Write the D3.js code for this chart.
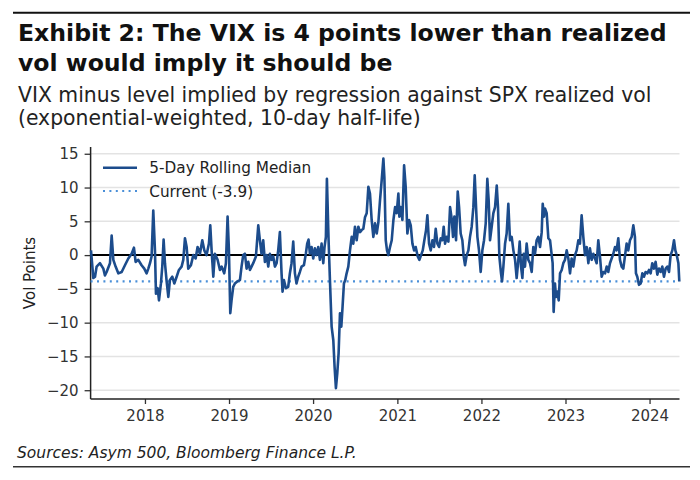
<!DOCTYPE html>
<html><head><meta charset="utf-8">
<script src="https://cdn.jsdelivr.net/npm/d3@7"></script>
<style>body{margin:0;background:#fff}svg{display:block}</style>
</head><body><svg id="c" width="700" height="480"></svg>
<script>
const titleLines = ["Exhibit 2: The VIX is 4 points lower than realized", "vol would imply it should be"];
const subtitleLines = ["VIX minus level implied by regression against SPX realized vol", "(exponential-weighted, 10-day half-life)"];
const sourceText = "Sources: Asym 500, Bloomberg Finance L.P.";
const yAxisLabel = "Vol Points";
const seriesName = "5-Day Rolling Median";
const currentValue = -3.9;
const currentLabel = "Current (-3.9)";
const yTicks = [-20, -15, -10, -5, 0, 5, 10, 15];
const xTickYears = [2018, 2019, 2020, 2021, 2022, 2023, 2024];
const xStart = "2017-05-10", xEnd = "2024-05-10";

// dates as decimal years
const dateYears = [
2017.358,2017.386,2017.406,2017.425,2017.465,2017.505,2017.524,2017.544,2017.584,2017.604,2017.624,2017.651,2017.683,2017.723,2017.762,2017.802,2017.842,2017.869,2017.889,2017.921,2017.960,2017.992,
2018.020,2018.040,2018.060,2018.079,2018.099,2018.119,2018.131,2018.151,2018.167,2018.190,2018.206,2018.222,2018.238,2018.258,2018.278,2018.297,2018.325,2018.349,2018.377,2018.404,2018.436,2018.456,2018.476,2018.496,2018.515,2018.547,2018.575,2018.603,2018.626,2018.654,2018.682,2018.706,2018.733,2018.761,2018.777,2018.793,2018.813,2018.832,2018.864,2018.892,2018.912,2018.943,2018.963,2018.983,2018.999,
2019.015,2019.030,2019.050,2019.070,2019.098,2019.130,2019.149,2019.169,2019.189,2019.209,2019.229,2019.249,2019.268,2019.288,2019.320,2019.348,2019.367,2019.387,2019.407,2019.427,2019.447,2019.467,2019.486,2019.506,2019.526,2019.546,2019.566,2019.585,2019.605,2019.625,2019.637,2019.653,2019.677,2019.704,2019.724,2019.744,2019.764,2019.784,2019.803,2019.823,2019.843,2019.863,2019.891,2019.914,2019.930,2019.946,2019.962,2019.982,
2020.002,2020.021,2020.041,2020.061,2020.081,2020.101,2020.121,2020.136,2020.152,2020.164,2020.184,2020.200,2020.220,2020.240,2020.255,2020.271,2020.287,2020.303,2020.319,2020.335,2020.350,2020.366,2020.382,2020.398,2020.418,2020.438,2020.458,2020.477,2020.497,2020.517,2020.537,2020.557,2020.576,2020.596,2020.616,2020.636,2020.656,2020.675,2020.695,2020.715,2020.735,2020.755,2020.775,2020.794,2020.814,2020.834,2020.846,2020.862,2020.877,2020.893,2020.913,2020.933,2020.953,2020.973,2020.992,
2021.012,2021.024,2021.040,2021.060,2021.080,2021.099,2021.119,2021.139,2021.159,2021.179,2021.199,2021.218,2021.242,2021.262,2021.282,2021.302,2021.321,2021.341,2021.357,2021.377,2021.397,2021.417,2021.436,2021.456,2021.476,2021.496,2021.516,2021.535,2021.551,2021.567,2021.587,2021.607,2021.627,2021.646,2021.662,2021.678,2021.698,2021.718,2021.734,2021.753,2021.773,2021.789,2021.805,2021.825,2021.845,2021.864,2021.884,2021.904,2021.920,2021.936,2021.952,2021.971,2021.991,
2022.011,2022.031,2022.051,2022.070,2022.086,2022.102,2022.122,2022.142,2022.162,2022.182,2022.197,2022.213,2022.233,2022.245,2022.261,2022.281,2022.300,2022.320,2022.340,2022.360,2022.380,2022.400,2022.419,2022.439,2022.455,2022.471,2022.487,2022.503,2022.518,2022.538,2022.558,2022.578,2022.598,2022.617,2022.637,2022.657,2022.677,2022.697,2022.717,2022.729,2022.744,2022.756,2022.776,2022.796,2022.816,2022.836,2022.847,2022.859,2022.875,2022.887,2022.903,2022.919,2022.935,2022.955,2022.974,2022.994,
2023.014,2023.034,2023.054,2023.073,2023.093,2023.113,2023.133,2023.153,2023.172,2023.192,2023.212,2023.232,2023.252,2023.272,2023.291,2023.311,2023.331,2023.351,2023.371,2023.390,2023.410,2023.430,2023.450,2023.470,2023.490,2023.509,2023.529,2023.549,2023.569,2023.589,2023.608,2023.628,2023.648,2023.668,2023.688,2023.707,2023.727,2023.747,2023.767,2023.787,2023.807,2023.826,2023.838,2023.854,2023.874,2023.894,2023.914,2023.933,2023.953,2023.973,2023.993,
2024.013,2024.032,2024.052,2024.072,2024.092,2024.112,2024.132,2024.151,2024.171,2024.191,2024.211,2024.231,2024.250,2024.270,2024.290,2024.306,2024.322,2024.342,2024.353
];
const medianValues = [
0.7,-3.4,-3.2,-1.7,-1.2,-2.0,-3.0,-2.5,-1.2,2.9,-0.7,-1.7,-2.7,-2.5,-1.5,-0.5,0.2,1.1,-1.0,-0.7,-1.5,-2.0,
-2.7,-2.0,-1.2,-0.2,6.6,0.7,-5.7,-4.9,-6.7,-4.2,-1.7,2.3,-1.2,-3.9,-6.2,-3.7,-3.2,-4.2,-3.2,-2.2,-1.7,-0.7,2.5,1.2,-2.0,-1.5,0.0,-0.5,1.2,0.2,2.2,0.7,0.0,1.7,4.4,0.7,-3.2,0.2,-0.7,-2.2,-1.7,-2.7,-1.2,5.7,0.7,
-8.6,-6.7,-4.7,-4.2,-3.9,-3.7,-1.7,0.0,0.2,-2.0,-1.0,-2.2,-1.7,-1.2,-0.2,4.4,2.2,0.2,2.2,-1.0,0.0,-1.7,0.2,-0.7,-0.2,-1.7,-1.2,0.7,3.4,-2.7,-5.4,-3.7,-4.9,-4.7,-2.7,-1.2,2.0,-2.7,-4.2,-3.2,-2.5,-1.7,-1.5,0.2,1.7,2.3,0.2,1.2,
-0.5,1.0,0.0,1.2,-0.7,1.7,-1.2,1.2,2.7,11.3,2.2,-3.7,-10.6,-12.6,-16.5,-19.7,-17.5,-14.5,-8.6,-10.6,-7.6,-4.2,-3.7,-2.7,-1.7,0.7,2.7,1.7,4.2,2.2,4.2,3.4,3.7,3.9,5.6,6.2,10.1,9.1,5.2,2.7,4.7,3.2,4.9,8.1,11.1,14.3,11.5,2.2,0.7,0.0,1.2,2.2,5.2,7.1,6.2,
9.1,5.7,7.1,5.2,13.3,10.1,3.2,5.2,4.4,1.7,0.7,1.2,-0.2,-0.7,0.0,0.7,2.2,3.7,5.9,1.7,0.7,2.2,1.2,3.9,1.7,1.2,2.5,2.2,4.2,1.7,2.7,2.0,7.1,5.4,2.7,5.7,2.2,9.4,7.1,3.2,2.2,-0.2,-1.5,0.0,0.7,2.7,4.2,7.1,11.8,7.1,2.7,0.7,-2.5,
0.7,2.2,4.7,11.3,8.1,2.2,4.2,6.2,7.1,10.3,7.1,-0.2,-2.7,-3.9,-1.7,1.7,3.2,7.6,2.2,2.7,0.7,-0.7,-3.4,-0.7,2.0,-1.7,-3.4,0.2,-1.7,1.7,-0.7,-1.2,-2.5,1.2,0.2,2.2,2.7,1.2,3.4,7.6,5.7,6.9,6.2,2.5,2.2,0.0,-1.2,-8.4,-4.2,-6.2,-5.4,-6.7,-2.7,-2.2,-1.2,-0.7,
0.7,-0.5,-2.7,-0.5,-1.7,0.0,0.7,2.2,1.7,5.9,2.7,0.0,1.2,-1.2,1.0,-0.7,0.2,-0.5,-1.2,2.2,-0.2,-3.2,-2.5,-2.7,-1.7,-2.5,-1.2,-0.5,0.2,1.2,0.7,2.5,-0.7,-1.7,-2.0,-0.2,1.7,0.7,2.2,2.7,4.4,2.7,-2.7,-3.2,-4.4,-4.2,-2.7,-3.2,-2.5,-2.7,-2.2,
-2.7,-1.2,-2.0,-1.0,-2.9,-2.0,-2.5,-1.7,-3.2,-2.0,-1.7,-2.5,0.0,0.7,2.2,0.7,0.0,-1.2,-3.9
];

function decYearToDate(v) {
  const yr = Math.floor(v);
  const s = Date.UTC(yr, 0, 1), e = Date.UTC(yr + 1, 0, 1);
  return new Date(s + (v - yr) * (e - s));
}
const data = dateYears.map((d, i) => ({date: decYearToDate(d), v: medianValues[i]}));

const svg = d3.select("#c");
const FONT = "'DejaVu Sans', Verdana, sans-serif";
const pLeft = 90.6, pRight = 679.5, pTop = 147, pBottom = 399;
const lineColor = "#1c4c8c", currentColor = "#4a8fd8";

const x = d3.scaleUtc().domain([new Date(xStart), new Date(xEnd)]).range([pLeft, pRight]);
const y = d3.scaleLinear().domain([-21.3, 16.0]).range([pBottom, pTop]);

function fit(sel, target) {
  const node = sel.node();
  const fs = parseFloat(sel.attr("font-size"));
  const w = node.getComputedTextLength();
  const nfs = fs * target / w;
  sel.attr("font-size", nfs.toFixed(2));
  return nfs;
}

// top & bottom rules
svg.append("line").attr("x1", 13).attr("x2", 690).attr("y1", 12.7).attr("y2", 12.7).attr("stroke", "#111").attr("stroke-width", 2);
svg.append("line").attr("x1", 13).attr("x2", 690).attr("y1", 466.7).attr("y2", 466.7).attr("stroke", "#333").attr("stroke-width", 1.5);

// title
const t1 = svg.append("text").attr("x", 18).attr("y", 40.5).attr("font-family", FONT).attr("font-weight", "bold").attr("font-size", 21).attr("fill", "#111").text(titleLines[0]);
const tfs = fit(t1, 649);
svg.append("text").attr("x", 18).attr("y", 70.5).attr("font-family", FONT).attr("font-weight", "bold").attr("font-size", tfs).attr("fill", "#111").text(titleLines[1]);

const s1 = svg.append("text").attr("x", 18).attr("y", 102).attr("font-family", FONT).attr("font-size", 18).attr("fill", "#222").text(subtitleLines[0]);
const sfs = fit(s1, 634);
svg.append("text").attr("x", 18).attr("y", 125).attr("font-family", FONT).attr("font-size", sfs).attr("fill", "#222").text(subtitleLines[1]);

const src = svg.append("text").attr("x", 17).attr("y", 458).attr("font-family", FONT).attr("font-style", "italic").attr("font-size", 14).attr("fill", "#222").text(sourceText);
fit(src, 340);

// gridlines
svg.append("g").selectAll("line").data(yTicks).join("line")
  .attr("x1", pLeft).attr("x2", pRight)
  .attr("y1", d => y(d)).attr("y2", d => y(d))
  .attr("stroke", "#e3e3e3").attr("stroke-width", 1.5);

// axes
const xAxis = svg.append("g").attr("transform", `translate(0,${pBottom})`)
  .call(d3.axisBottom(x).tickValues(xTickYears.map(yr => new Date(Date.UTC(yr, 0, 1)))).tickFormat(d3.utcFormat("%Y")).tickSize(5).tickPadding(6).tickSizeOuter(0));
const yAxis = svg.append("g").attr("transform", `translate(${pLeft},0)`)
  .call(d3.axisLeft(y).tickValues(yTicks).tickSize(6).tickPadding(6).tickSizeOuter(0));
[xAxis, yAxis].forEach(g => {
  g.select(".domain").remove();
  g.selectAll(".tick line").attr("stroke", "#333").attr("stroke-width", 1.3);
  g.selectAll(".tick text").attr("font-family", FONT).attr("font-size", 15).attr("fill", "#333");
});
// spines
svg.append("line").attr("x1", pLeft).attr("x2", pLeft).attr("y1", pTop).attr("y2", pBottom).attr("stroke", "#222").attr("stroke-width", 1.5);
svg.append("line").attr("x1", pLeft).attr("x2", pRight).attr("y1", pBottom).attr("y2", pBottom).attr("stroke", "#222").attr("stroke-width", 1.5);

// y label
svg.append("text").attr("transform", `translate(35,273) rotate(-90)`).attr("text-anchor", "middle")
  .attr("font-family", FONT).attr("font-size", 15).attr("fill", "#222").text(yAxisLabel);

// zero line
svg.append("line").attr("x1", pLeft).attr("x2", pRight).attr("y1", y(0)).attr("y2", y(0)).attr("stroke", "#000").attr("stroke-width", 2);
// current line
svg.append("line").attr("x1", pLeft).attr("x2", pRight).attr("y1", y(currentValue)).attr("y2", y(currentValue))
  .attr("stroke", currentColor).attr("stroke-width", 2.2).attr("stroke-dasharray", "2,4.4");

// series
svg.append("path").datum(data)
  .attr("d", d3.line().x(d => x(d.date)).y(d => y(d.v)))
  .attr("fill", "none").attr("stroke", lineColor).attr("stroke-width", 2.6).attr("stroke-linejoin", "round");

// legend
const lg = svg.append("g");
lg.append("line").attr("x1", 103).attr("x2", 137).attr("y1", 167.7).attr("y2", 167.7).attr("stroke", lineColor).attr("stroke-width", 2.6);
lg.append("line").attr("x1", 103).attr("x2", 137).attr("y1", 191).attr("y2", 191).attr("stroke", currentColor).attr("stroke-width", 2.2).attr("stroke-dasharray", "2,4.4");
const l1 = lg.append("text").attr("x", 149.3).attr("y", 173).attr("font-family", FONT).attr("font-size", 15).attr("fill", "#222").text(seriesName);
const lfs = fit(l1, 162);
lg.append("text").attr("x", 149.3).attr("y", 196.5).attr("font-family", FONT).attr("font-size", lfs).attr("fill", "#222").text(currentLabel);
</script></body></html>
